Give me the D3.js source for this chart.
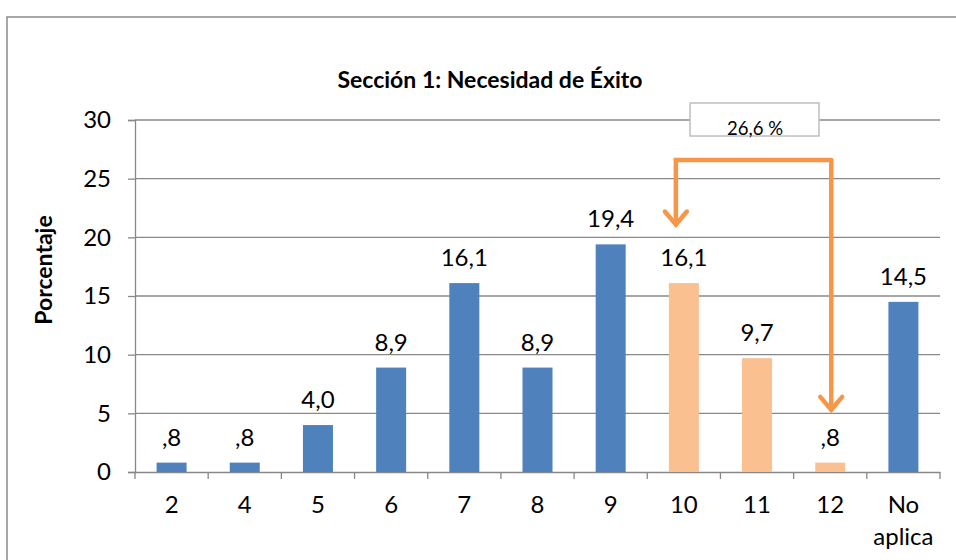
<!DOCTYPE html>
<html><head><meta charset="utf-8">
<script src="https://cdn.jsdelivr.net/npm/d3@7"></script>
<style>body{margin:0;background:#fff;} svg{display:block;font-family:Lato,"Open Sans",sans-serif;}</style>
</head><body>
<svg id="c" width="956" height="560"></svg>
<script>
const categories = ["2","4","5","6","7","8","9","10","11","12","No aplica"];
const values = [0.8,0.8,4.0,8.9,16.1,8.9,19.4,16.1,9.7,0.8,14.5];
const labels = [",8",",8","4,0","8,9","16,1","8,9","19,4","16,1","9,7",",8","14,5"];
const highlighted = ["10","11","12"];
const yTicks = [0,5,10,15,20,25,30];
const title = "Sección 1: Necesidad de Éxito";
const yTitle = "Porcentaje";
const annotation = "26,6 %";

const svg = d3.select("#c");
const m = {l:135, r:940, t:120, b:472};
const x = d3.scaleBand().domain(categories).range([m.l, m.r]).paddingInner(0.59).paddingOuter(0.295);
const xb = d3.scaleBand().domain(categories).range([m.l, m.r]);
const y = d3.scaleLinear().domain([0,30]).range([m.b, m.t]);

svg.append("rect").attr("x",7).attr("y",17).attr("width",960).attr("height",560)
  .attr("fill","none").attr("stroke","#8c8c8c").attr("stroke-width",1.5);

svg.append("g").selectAll("line").data(yTicks.filter(d=>d>0)).join("line")
  .attr("x1",m.l).attr("x2",m.r).attr("y1",d=>y(d)).attr("y2",d=>y(d))
  .attr("stroke","#888").attr("stroke-width",1.3);

const ya = svg.append("g").attr("transform",`translate(${m.l},0)`)
  .call(d3.axisLeft(y).tickValues(yTicks).tickSize(7).tickPadding(17).tickFormat(d3.format("d")));
ya.select(".domain").attr("stroke","#888").attr("stroke-width",1.3);
ya.selectAll(".tick line").attr("stroke","#888").attr("stroke-width",1.3);
ya.selectAll("text").attr("font-size",24).attr("fill","#000").attr("font-family","Lato,sans-serif");

const xa = svg.append("g").attr("transform",`translate(0,${m.b})`)
  .call(d3.axisBottom(xb).tickSize(0).tickPadding(24));
xa.select(".domain").attr("stroke","#888").attr("stroke-width",1.3);
xa.selectAll(".tick text").attr("font-size",24).attr("fill","#000").attr("font-family","Lato,sans-serif")
  .each(function(d){
    const words = d.split(" ");
    if(words.length>1){
      const t = d3.select(this); t.text(null);
      words.forEach((w,i)=>t.append("tspan").attr("x",0).attr("dy", i===0?"0.71em":"1.35em").text(w));
    }
  });
const bounds = categories.map(c=>xb(c)).concat([m.r]);
svg.append("g").selectAll("line").data(bounds).join("line")
  .attr("x1",d=>d).attr("x2",d=>d).attr("y1",m.b).attr("y2",m.b+7)
  .attr("stroke","#888").attr("stroke-width",1.3);

svg.append("g").selectAll("rect").data(categories).join("rect")
  .attr("x",c=>x(c)).attr("width",x.bandwidth())
  .attr("y",(c,i)=>y(values[i])).attr("height",(c,i)=>y(0)-y(values[i]))
  .attr("fill",c=>highlighted.includes(c)?"#FAC090":"#4F81BD");

svg.append("g").selectAll("text").data(categories).join("text")
  .attr("x",c=>x(c)+x.bandwidth()/2).attr("y",(c,i)=>y(values[i])-17)
  .attr("text-anchor","middle").attr("font-size",24).attr("fill","#000")
  .text((c,i)=>labels[i]);

svg.append("text").attr("x",490).attr("y",88).attr("text-anchor","middle")
  .attr("font-size",23).attr("font-weight","bold").text(title);
svg.append("text").attr("transform","translate(52,270) rotate(-90)").attr("text-anchor","middle")
  .attr("font-size",23).attr("font-weight","bold").text(yTitle);

svg.append("rect").attr("x",690).attr("y",103).attr("width",129).attr("height",33)
  .attr("fill","#fff").attr("stroke","#bfbfbf").attr("stroke-width",1.5);
svg.append("text").attr("x",755).attr("y",135).attr("text-anchor","middle")
  .attr("font-size",18.5).text(annotation);

const ax1 = x("10")+x.bandwidth()/2 - 8, ax2 = x("12")+x.bandwidth()/2 + 1;
const ay = y(26.6);
const orange = "#F79646";
const g = svg.append("g").attr("fill","none").attr("stroke",orange).attr("stroke-width",4.5)
  .attr("stroke-linecap","round").attr("stroke-linejoin","miter");
g.append("path").attr("d",`M${ax2},${ay} H${ax1} V${y(21.1)}`);
g.append("path").attr("d",`M${ax1-11},${y(22.2)} L${ax1},${y(21.1)} L${ax1+11},${y(22.2)}`);
g.append("path").attr("d",`M${ax2},${ay} V${y(5.3)}`);
g.append("path").attr("d",`M${ax2-11},${y(6.4)} L${ax2},${y(5.3)} L${ax2+11},${y(6.4)}`);
</script>
</body></html>
